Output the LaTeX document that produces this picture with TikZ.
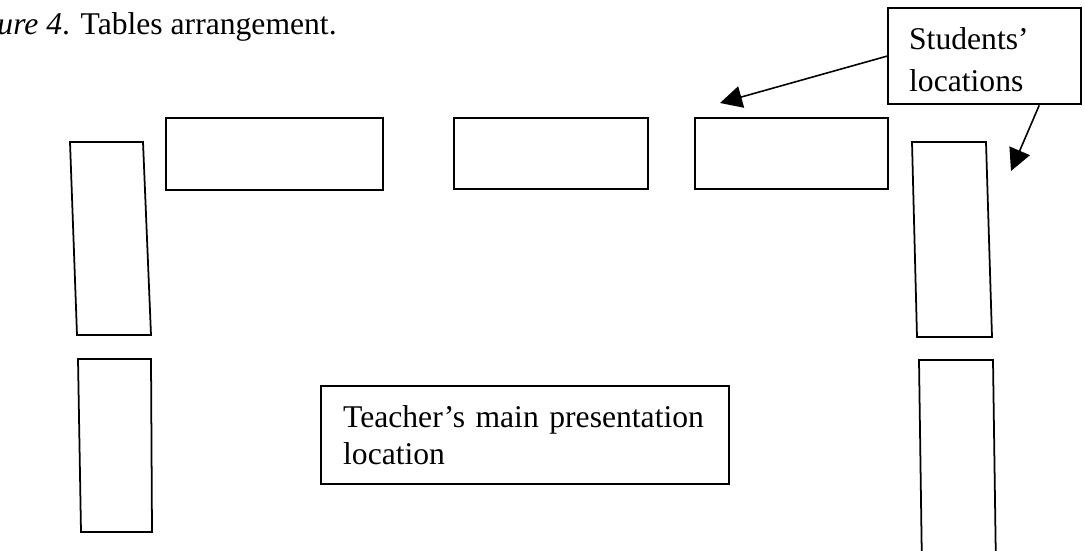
\documentclass[tikz,border=0pt]{standalone}
\usepackage{fontspec}
\setmainfont{Liberation Serif}
\usetikzlibrary{arrows.meta}
\tikzset{
  desk/.style={draw, line width=1pt},
  note/.style={draw, line width=1.3pt, align=left, inner xsep=4.2mm, inner ysep=0pt,
    font=\fontsize{18}{24}\selectfont},
  pointer/.style={-{Triangle[length=4.4mm, width=4.4mm]}, line width=0.9pt}
}

\begin{document}
\begin{tikzpicture}[x=0.2mm, y=-0.2mm]
    \useasboundingbox (0,0) rectangle (1085,551);
    \node[font=\fontsize{18}{21}\selectfont, inner sep=0pt, anchor=base east] (caption) at (337,35) {\textit{ure 4}. Tables arrangement.};

    \draw[desk] (166,118) rectangle (383,190);
    \draw[desk] (454,118) rectangle (648,189);
    \draw[desk] (695,118) rectangle (888,189);
    \draw[desk] (70,142) -- (143,142) -- (151,335) -- (77,335) -- cycle;
    \draw[desk] (78,359) -- (151,359) -- (152,532) -- (81,532) -- cycle;
    \draw[desk] (912,142) -- (986,142) -- (992,337) -- (917,337) -- cycle;
    \draw[desk] (922,570) -- (919,360) -- (993,360) -- (996,570);

    \node[note, text width=30.2mm, minimum height=19.2mm, anchor=north west] (students) at (887,7) {\strut Students'\\locations};
    \node[note, text width=72.8mm, inner xsep=4.4mm, minimum height=19.6mm, anchor=north west,
      font=\fontsize{18}{21}\selectfont] (teacher) at (320,385) {Teacher's main presentation\\location};

    \coordinate (tipA) at (720,103);
    \coordinate (tipB) at (1011,171);
    \draw[pointer] (students.west) -- (tipA);
    \draw[pointer] (students.-42) -- (tipB);
\end{tikzpicture}
\end{document}
